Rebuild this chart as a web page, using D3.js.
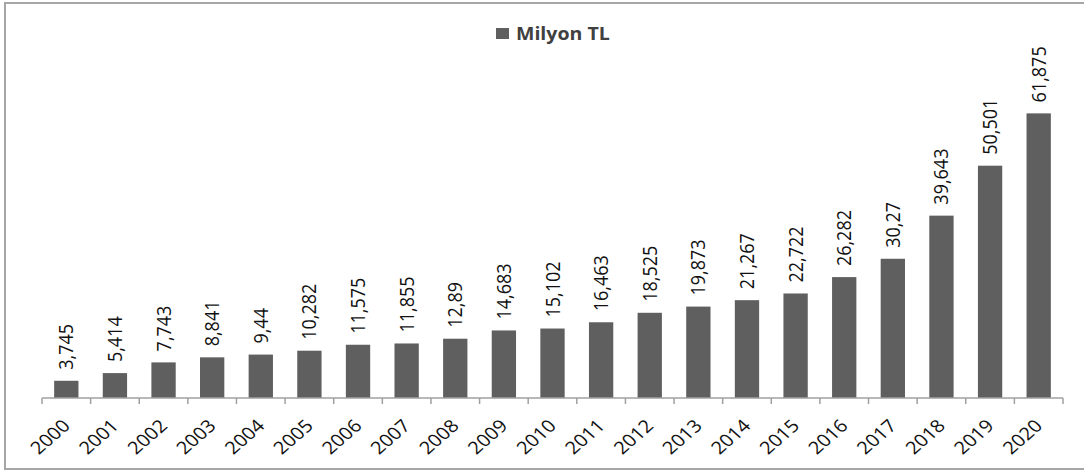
<!DOCTYPE html>
<html>
<head>
<meta charset="utf-8">
<script src="https://cdn.jsdelivr.net/npm/d3@7"></script>
<style>
    body { margin: 0; background: #fff; }
    text { font-family: "Open Sans", sans-serif; }
</style>
</head>
<body>
<svg id="chart" width="1084" height="472"></svg>
<script>
// data (milyon TL)
var years = ["2000", "2001", "2002", "2003", "2004", "2005", "2006", "2007", "2008", "2009", "2010",
    "2011", "2012", "2013", "2014", "2015", "2016", "2017", "2018", "2019", "2020"];
var values = [3.745, 5.414, 7.743, 8.841, 9.44, 10.282, 11.575, 11.855, 12.89, 14.683, 15.102,
    16.463, 18.525, 19.873, 21.267, 22.722, 26.282, 30.27, 39.643, 50.501, 61.875];
var seriesName = "Milyon TL";

var svg = d3.select("#chart");
var barColor = "#5f5f5f";
var stretch = 1.15; // the reference text is a bit wide

// outer frame
svg.append("rect")
    .attr("x", 5)
    .attr("y", 3)
    .attr("width", 1100)
    .attr("height", 466)
    .attr("fill", "none")
    .attr("stroke", "#a6a6a6")
    .attr("stroke-width", 2);

var x = d3.scaleBand()
    .domain(years)
    .range([42, 1063])
    .paddingInner(0.5)
    .paddingOuter(0.25);

var y = d3.scaleLinear()
    .domain([0, 70])
    .range([398, 76]);

// bars
svg.append("g")
    .selectAll("rect")
    .data(values)
    .join("rect")
    .attr("x", (d, i) => x(years[i]))
    .attr("y", d => y(d))
    .attr("width", x.bandwidth())
    .attr("height", d => y(0) - y(d))
    .attr("fill", barColor);

// value labels
svg.append("g")
    .selectAll("text")
    .data(values)
    .join("text")
    .attr("transform", (d, i) =>
        "translate(" + (x(years[i]) + x.bandwidth() / 2 + 7) + "," + (y(d) - 11) + ") scale(" + stretch + ",1) rotate(-90)")
    .attr("text-anchor", "start")
    .attr("font-size", 18)
    .attr("fill", "#111")
    .text(d => String(d).replace(".", ","));

// x axis line + ticks on band edges
var axis = svg.append("g").attr("stroke", "#a0a0a0").attr("stroke-width", 1.5);
axis.append("line")
    .attr("x1", 42).attr("x2", 1063)
    .attr("y1", y(0)).attr("y2", y(0));
axis.selectAll("line.tick")
    .data(d3.range(years.length + 1))
    .join("line")
    .attr("class", "tick")
    .attr("x1", i => 42 + i * x.step())
    .attr("x2", i => 42 + i * x.step())
    .attr("y1", y(0))
    .attr("y2", y(0) + 6);

// year labels
svg.append("g")
    .selectAll("text")
    .data(years)
    .join("text")
    .attr("transform", d =>
        "translate(" + (x(d) + x.bandwidth() / 2 + 5) + ",427) scale(" + stretch + ",1) rotate(-45)")
    .attr("text-anchor", "end")
    .attr("font-size", 17.5)
    .attr("fill", "#111")
    .text(d => d);

// legend
var legend = svg.append("g").attr("transform", "translate(496,28)");
legend.append("rect")
    .attr("width", 13)
    .attr("height", 11)
    .attr("fill", barColor);
legend.append("text")
    .attr("transform", "translate(20,11.5) scale(" + stretch + ",1)")
    .attr("font-size", 17)
    .attr("font-weight", "bold")
    .attr("fill", "#404040")
    .text(seriesName);
</script>
</body>
</html>
